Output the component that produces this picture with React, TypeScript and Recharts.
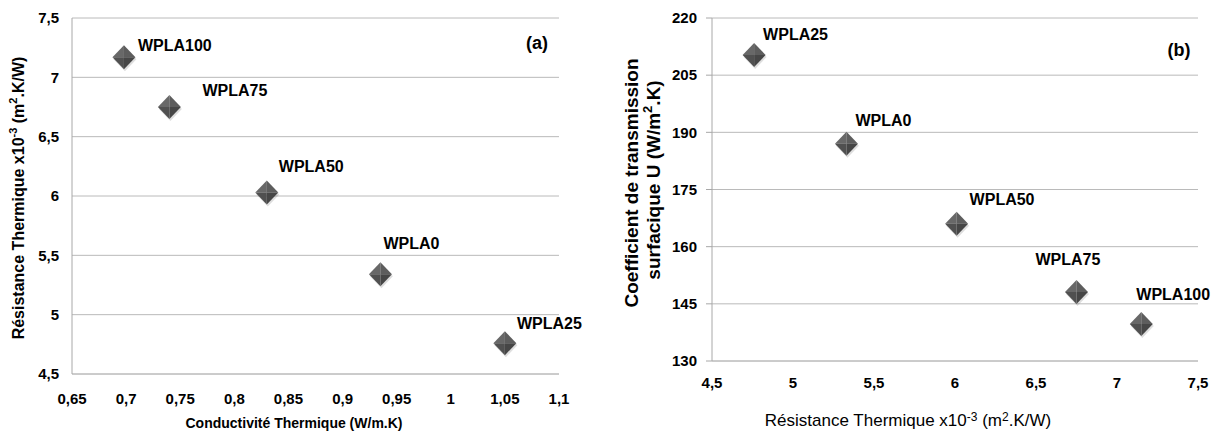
import { ScatterChart, Scatter, XAxis, YAxis, CartesianGrid, Label } from "recharts";

// panel (a): conductivity vs resistance
const samplesA = ["WPLA100", "WPLA75", "WPLA50", "WPLA0", "WPLA25"];
const conductivite = [0.698, 0.74, 0.83, 0.935, 1.05];
const resistanceA = [7.17, 6.75, 6.03, 5.34, 4.76];
const ticksXA = [0.65, 0.7, 0.75, 0.8, 0.85, 0.9, 0.95, 1, 1.05, 1.1];
const ticksYA = [4.5, 5, 5.5, 6, 6.5, 7, 7.5];

// panel (b): resistance vs U coefficient
const samplesB = ["WPLA25", "WPLA0", "WPLA50", "WPLA75", "WPLA100"];
const resistanceB = [4.76, 5.33, 6.01, 6.75, 7.15];
const coefficientU = [210.3, 187, 166, 148.1, 139.7];
const ticksXB = [4.5, 5, 5.5, 6, 6.5, 7, 7.5];
const ticksYB = [130, 145, 160, 175, 190, 205, 220];

// where each data label sits relative to its marker (dx, dy)
const nudgeA: Record<string, [number, number]> = {
  WPLA100: [14, -12],
  WPLA75: [33, -17],
  WPLA50: [12, -26],
  WPLA0: [3, -31],
  WPLA25: [12, -20],
};
const nudgeB: Record<string, [number, number]> = {
  WPLA25: [9, -20],
  WPLA0: [9, -23],
  WPLA50: [13, -24],
  WPLA75: [-41, -33],
  WPLA100: [-5, -30],
};

const dataA = samplesA.map((name, i) => ({ name, x: conductivite[i], y: resistanceA[i] }));
const dataB = samplesB.map((name, i) => ({ name, x: resistanceB[i], y: coefficientU[i] }));

const FONT = "'Liberation Sans', Arial, sans-serif";
const GRID = "#bababa";
const fmt = (v: number) => String(v).replace(".", ",");

function Diamond(props: any) {
  const { cx, cy, payload, nudge } = props;
  if (cx == null || cy == null) return null;
  const w = 11.5;
  const h = 12;
  const [dx, dy] = nudge[payload.name] || [10, -20];
  return (
    <g>
      <polygon
        points={`${cx - w + 1},${cy + 2} ${cx + 1},${cy - h + 2} ${cx + w + 1},${cy + 2} ${cx + 1},${cy + h + 2}`}
        fill="#000"
        opacity={0.13}
      />
      <polygon points={`${cx - w},${cy} ${cx},${cy - h} ${cx},${cy}`} fill="#686868" />
      <polygon points={`${cx},${cy - h} ${cx + w},${cy} ${cx},${cy}`} fill="#5d5d5d" />
      <polygon points={`${cx + w},${cy} ${cx},${cy + h} ${cx},${cy}`} fill="#464646" />
      <polygon points={`${cx},${cy + h} ${cx - w},${cy} ${cx},${cy}`} fill="#505050" />
      <text
        x={cx + dx}
        y={cy + dy + 5.5}
        fontFamily={FONT}
        fontWeight="bold"
        fontSize={16}
        fill="#000"
      >
        {payload.name}
      </text>
    </g>
  );
}

const tickStyle = { fontFamily: FONT, fontWeight: "bold", fontSize: 15, fill: "#000" };

export default function App() {
  return (
    <div style={{ position: "absolute", left: 0, top: 0, width: 1227, height: 439, background: "#fff" }}>
      <div style={{ position: "absolute", left: 0, top: 0 }}>
        <ScatterChart width={600} height={439} margin={{ top: 18, right: 41, bottom: 0, left: 0 }}>
          <CartesianGrid vertical={false} stroke={GRID} />
          <XAxis
            type="number"
            dataKey="x"
            domain={[0.65, 1.1]}
            ticks={ticksXA}
            tickFormatter={fmt}
            height={65}
            tickLine={false}
            tickSize={0}
            tickMargin={19}
            axisLine={{ stroke: GRID }}
            tick={tickStyle}
            interval={0}
          >
            <Label
              content={() => (
                <g>
                  <text x={294} y={428} textAnchor="middle" fontFamily={FONT} fontWeight="bold" fontSize={14} fill="#000">
                    Conductivité Thermique (W/m.K)
                  </text>
                  <text x={537} y={49} textAnchor="middle" fontFamily={FONT} fontWeight="bold" fontSize={18} fill="#000">
                    (a)
                  </text>
                </g>
              )}
            />
          </XAxis>
          <YAxis
            type="number"
            dataKey="y"
            domain={[4.5, 7.5]}
            ticks={ticksYA}
            tickFormatter={fmt}
            width={72}
            tickLine={false}
            tickSize={0}
            tickMargin={13}
            axisLine={{ stroke: "#a8a8a8" }}
            tick={tickStyle}
            interval={0}
          >
            <Label
              content={() => (
                <text
                  x={18}
                  y={198}
                  transform="rotate(-90, 18, 198)"
                  textAnchor="middle"
                  dominantBaseline="central"
                  fontFamily={FONT}
                  fontWeight="bold"
                  fontSize={16}
                  fill="#000"
                >
                  Résistance Thermique x10
                  <tspan dy={-5} fontSize={11}>-3</tspan>
                  <tspan dy={5}> (m</tspan>
                  <tspan dy={-5} fontSize={11}>2</tspan>
                  <tspan dy={5}>.K/W)</tspan>
                </text>
              )}
            />
          </YAxis>
          <Scatter
            data={dataA}
            isAnimationActive={false}
            shape={(p: any) => <Diamond {...p} nudge={nudgeA} />}
          />
        </ScatterChart>
      </div>
      <div style={{ position: "absolute", left: 600, top: 0 }}>
        <ScatterChart width={627} height={439} margin={{ top: 18, right: 29, bottom: 0, left: 0 }}>
          <CartesianGrid vertical={false} stroke={GRID} />
          <XAxis
            type="number"
            dataKey="x"
            domain={[4.5, 7.5]}
            ticks={ticksXB}
            tickFormatter={fmt}
            height={78}
            tickLine={false}
            tickSize={0}
            tickMargin={16}
            axisLine={{ stroke: GRID }}
            tick={tickStyle}
            interval={0}
          >
            <Label
              content={() => (
                <g>
                  <text x={308} y={426} textAnchor="middle" fontFamily={FONT} fontSize={17} fill="#000">
                    Résistance Thermique x10
                    <tspan dy={-5} fontSize={12}>-3</tspan>
                    <tspan dy={5}> (m</tspan>
                    <tspan dy={-5} fontSize={12}>2</tspan>
                    <tspan dy={5}>.K/W)</tspan>
                  </text>
                  <text x={579} y={56} textAnchor="middle" fontFamily={FONT} fontWeight="bold" fontSize={18} fill="#000">
                    (b)
                  </text>
                </g>
              )}
            />
          </XAxis>
          <YAxis
            type="number"
            dataKey="y"
            domain={[130, 220]}
            ticks={ticksYB}
            width={112}
            tickLine={{ stroke: "#a8a8a8" }}
            tickSize={6}
            tickMargin={9}
            axisLine={{ stroke: "#a8a8a8" }}
            tick={tickStyle}
            interval={0}
          >
            <Label
              content={() => (
                <g>
                  <text
                    x={31}
                    y={183}
                    transform="rotate(-90, 31, 183)"
                    textAnchor="middle"
                    dominantBaseline="central"
                    fontFamily={FONT}
                    fontWeight="bold"
                    fontSize={19}
                    fill="#000"
                  >
                    Coefficient de transmission
                  </text>
                  <text
                    x={53}
                    y={180}
                    transform="rotate(-90, 53, 180)"
                    textAnchor="middle"
                    dominantBaseline="central"
                    fontFamily={FONT}
                    fontWeight="bold"
                    fontSize={19}
                    fill="#000"
                  >
                    surfacique U (W/m
                    <tspan dy={-6} fontSize={13}>2</tspan>
                    <tspan dy={6}>.K)</tspan>
                  </text>
                </g>
              )}
            />
          </YAxis>
          <Scatter
            data={dataB}
            isAnimationActive={false}
            shape={(p: any) => <Diamond {...p} nudge={nudgeB} />}
          />
        </ScatterChart>
      </div>
    </div>
  );
}
